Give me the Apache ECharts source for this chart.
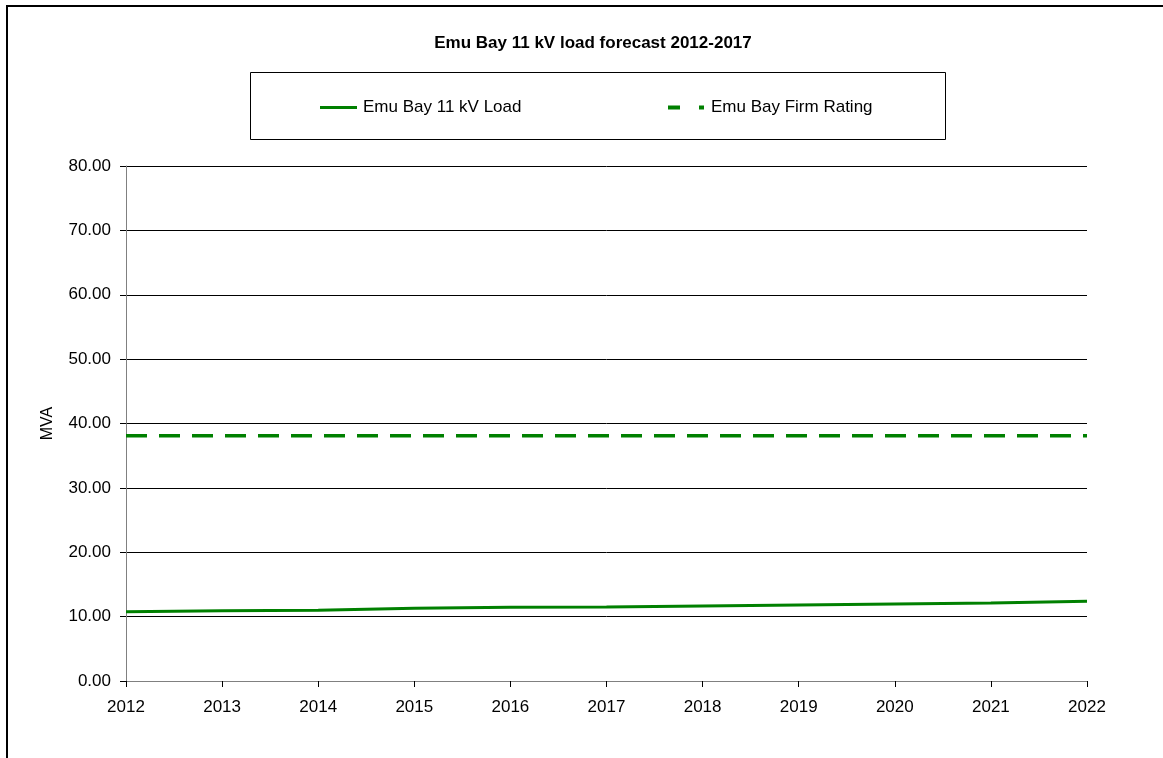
<!DOCTYPE html>
<html>
<head>
<meta charset="utf-8">
<script src="https://cdn.jsdelivr.net/npm/echarts@6/dist/echarts.min.js"></script>
<style>html,body{margin:0;padding:0;background:#fff;}#c{width:1163px;height:758px;}</style>
</head>
<body>
<div id="c"></div>
<script>
const years = ['2012','2013','2014','2015','2016','2017','2018','2019','2020','2021','2022'];
const loadValues = [10.76, 10.9, 11.0, 11.3, 11.45, 11.5, 11.65, 11.8, 11.95, 12.1, 12.4];
const firmRating = [38.1, 38.1, 38.1, 38.1, 38.1, 38.1, 38.1, 38.1, 38.1, 38.1, 38.1];
const yTicks = [0, 10, 20, 30, 40, 50, 60, 70, 80];

const chart = echarts.init(document.getElementById('c'));
const font = 'Liberation Sans, Arial, sans-serif';
chart.setOption({
  animation: false,
  backgroundColor: '#fff',
  textStyle: {fontFamily: font},
  title: {
    text: 'Emu Bay 11 kV load forecast 2012-2017',
    left: 588, top: 30, textAlign: 'center',
    textStyle: {fontSize: 17, fontWeight: 'bold', color: '#000', fontFamily: font}
  },
  graphic: [
    {type: 'rect', shape: {x: 7, y: 6, width: 1200, height: 800}, style: {fill: 'none', stroke: '#000', lineWidth: 2}, silent: true, z: -1},
    {type: 'rect', shape: {x: 250.5, y: 72.5, width: 695, height: 67}, style: {fill: 'none', stroke: '#000', lineWidth: 1}, silent: true, z: -1}
  ],
  legend: [
    {data: [{name: 'Emu Bay 11 kV Load', icon: 'path://M0,0H37V3H0Z'}], left: 320, top: 99, itemWidth: 37, itemHeight: 3, itemGap: 0, padding: 0,
     textStyle: {fontSize: 17, color: '#000', fontFamily: font, padding: [0,0,0,1]}},
    {data: [{name: 'Emu Bay Firm Rating', icon: 'path://M0,0H12V4H0Z M31,0H36V4H31Z'}], left: 668, top: 99, itemWidth: 36, itemHeight: 4, padding: 0,
     textStyle: {fontSize: 17, color: '#000', fontFamily: font, padding: [0,0,0,2]}}
  ],
  grid: {left: 126, right: 76, top: 166, bottom: 77, containLabel: false},
  xAxis: {
    type: 'category', data: years, boundaryGap: false,
    axisLine: {lineStyle: {color: '#808080', width: 1}},
    axisTick: {show: true, length: 6, lineStyle: {color: '#000'}},
    axisLabel: {fontSize: 17, color: '#000', margin: 18, fontFamily: font},
    splitLine: {show: false}
  },
  yAxis: {
    type: 'value', min: yTicks[0], max: yTicks[yTicks.length-1], interval: 10,
    name: 'MVA', nameLocation: 'middle', nameGap: 70, nameRotate: 90,
    nameTextStyle: {fontSize: 16, color: '#000', fontFamily: font},
    axisLine: {show: true, lineStyle: {color: '#808080', width: 1}},
    axisTick: {show: true, length: 6, lineStyle: {color: '#000'}},
    axisLabel: {fontSize: 17, color: '#000', margin: 15, fontFamily: font, formatter: v => v.toFixed(2)},
    splitLine: {show: true, lineStyle: {color: '#000', width: 1}}
  },
  series: [
    {name: 'Emu Bay 11 kV Load', type: 'line', data: loadValues, symbol: 'none', smooth: false,
     lineStyle: {color: '#008000', width: 3}, itemStyle: {color: '#008000'}},
    {name: 'Emu Bay Firm Rating', type: 'line', data: firmRating, symbol: 'none',
     lineStyle: {color: '#008000', width: 3.5, type: [21, 12]}, itemStyle: {color: '#008000'}}
  ]
});
</script>
</body>
</html>
